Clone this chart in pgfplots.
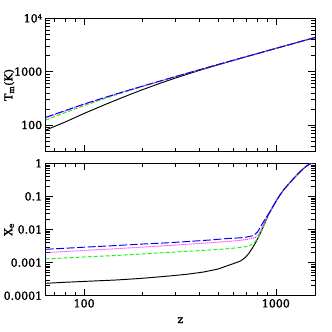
\documentclass[border=0pt]{standalone}
\usepackage{fontspec}
\setmainfont{DejaVu Serif}[FakeBold=1.8]
\usepackage{pgfplots}
\pgfplotsset{compat=1.18}

\definecolor{lgreen}{rgb}{0.1,0.95,0.1}
\definecolor{mag}{rgb}{1,0,1}

\pgfplotsset{every axis plot/.append style={line width=0.95pt}}

\begin{document}
\begin{tikzpicture}
\path[use as bounding box] (0pt,0pt) rectangle (332pt,332pt);

% upper panel: matter temperature
\begin{axis}[at={(45.7pt,180.3pt)}, anchor=south west,
    xmode=log, ymode=log,
    scale only axis, width=269.3pt, height=133.4pt,
    xmin=63, xmax=1600,
    xtick={100,1000},
    minor xtick={70,80,90,200,300,400,500,600,700,800,900},
    tick align=inside,
    axis line style={line width=1pt},
    tick style={black, line width=0.6pt},
    major tick length=7pt, minor tick length=4pt,
    ticklabel style={font=\fontsize{11}{13}\selectfont},
    label style={font=\fontsize{11}{13}\selectfont},
    ylabel style={at={(axis description cs:-0.136,0.5)}, anchor=center},
    ymin=31.623, ymax=10000,
    ytick={100,1000,10000},
    yticklabels={100,1000,{10\raisebox{0.55ex}{\fontsize{7}{8}\selectfont 4}}},
    minor ytick={40,50,60,70,80,90,200,300,400,500,600,700,800,900,2000,3000,4000,5000,6000,7000,8000,9000},
    xticklabels={},
    ylabel={T\textsubscript{m}(K)}]
  \addplot[black] coordinates {(63,80.2)(80,114.8)(100,165)(130,246)(160,333)(200,455)(250,609)(300,763)(400,1060)(500,1345)(700,1904)(1000,2728)(1300,3545)(1600,4363)};
  \addplot[lgreen, dash pattern=on 4pt off 2pt] coordinates {(63,123.8)(80,172)(100,231)(130,319.5)(160,408)(200,523)(250,665)(300,808)(400,1085)(500,1365)(700,1910)(1000,2728)(1300,3545)(1600,4363)};
  \addplot[mag, dash pattern=on 1pt off 1pt] coordinates {(63,136)(80,184)(100,243.6)(130,330)(160,417)(200,528.5)(250,669)(300,810)(400,1087)(500,1365)(700,1910)(1000,2728)(1300,3545)(1600,4363)};
  \addplot[blue, dash pattern=on 8pt off 2.5pt] coordinates {(63,139.5)(80,187.6)(100,247.7)(130,333.8)(160,419)(200,531)(250,670)(300,812)(400,1087)(500,1365)(700,1910)(1000,2728)(1300,3545)(1600,4363)};
\end{axis}

% lower panel: ionization fraction
\begin{axis}[at={(45.7pt,36.3pt)}, anchor=south west,
    xmode=log, ymode=log,
    scale only axis, width=269.3pt, height=132.4pt,
    xmin=63, xmax=1600,
    xtick={100,1000},
    minor xtick={70,80,90,200,300,400,500,600,700,800,900},
    tick align=inside,
    axis line style={line width=1pt},
    tick style={black, line width=0.6pt},
    major tick length=7pt, minor tick length=4pt,
    ticklabel style={font=\fontsize{11}{13}\selectfont},
    label style={font=\fontsize{11}{13}\selectfont},
    ylabel style={at={(axis description cs:-0.136,0.5)}, anchor=center},
    ymin=0.0001, ymax=1,
    ytick={0.0001,0.001,0.01,0.1,1},
    yticklabels={0.0001,0.001,0.01,0.1,1},
    minor ytick={2e-4,3e-4,4e-4,5e-4,6e-4,7e-4,8e-4,9e-4,2e-3,3e-3,4e-3,5e-3,6e-3,7e-3,8e-3,9e-3,0.02,0.03,0.04,0.05,0.06,0.07,0.08,0.09,0.2,0.3,0.4,0.5,0.6,0.7,0.8,0.9},
    xticklabels={100,1000},
    xlabel={z},
    xlabel style={at={(axis description cs:0.5,-0.185)}, anchor=center},
    ylabel={X\textsubscript{e}}]
  \addplot[black] coordinates {(63,2.37e-4)(80,2.55e-4)(100,2.7e-4)(150,3.0e-4)(200,3.35e-4)(280,3.95e-4)(350,4.5e-4)(420,5.2e-4)(500,6.4e-4)(550,7.8e-4)(600,9.3e-4)(650,1.1e-3)(675,1.27e-3)(700,1.52e-3)(725,1.95e-3)(750,2.6e-3)(780,3.8e-3)(810,5.8e-3)(835,8.3e-3)(860,0.0122)(885,0.018)(910,0.026)(950,0.042)(1000,0.07)(1050,0.11)(1100,0.16)(1150,0.215)(1200,0.285)(1250,0.37)(1300,0.47)(1350,0.585)(1400,0.71)(1450,0.84)(1500,0.95)(1550,1.03)(1600,1.07)};
  \addplot[lgreen, dash pattern=on 4pt off 2pt] coordinates {(63,1.29e-3)(100,1.48e-3)(150,1.65e-3)(200,1.82e-3)(280,2.05e-3)(350,2.2e-3)(450,2.4e-3)(550,2.6e-3)(650,2.85e-3)(700,3.05e-3)(740,3.4e-3)(780,4.3e-3)(810,5.8e-3)(840,8.6e-3)(870,0.0145)(900,0.0235)(920,0.030)(950,0.042)(1000,0.07)(1050,0.11)(1100,0.16)(1150,0.215)(1200,0.285)(1250,0.37)(1300,0.47)(1350,0.585)(1400,0.71)(1450,0.84)(1500,0.95)(1550,1.03)(1600,1.07)};
  \addplot[mag, dash pattern=on 1pt off 1pt] coordinates {(63,2.0e-3)(100,2.33e-3)(150,2.65e-3)(200,2.93e-3)(280,3.3e-3)(350,3.6e-3)(450,3.95e-3)(550,4.3e-3)(650,4.7e-3)(720,5.1e-3)(780,5.7e-3)(805,6.7e-3)(825,8.3e-3)(850,0.0118)(870,0.0165)(890,0.0215)(910,0.027)(950,0.042)(1000,0.07)(1050,0.11)(1100,0.16)(1150,0.215)(1200,0.285)(1250,0.37)(1300,0.47)(1350,0.585)(1400,0.71)(1450,0.84)(1500,0.95)(1550,1.03)(1600,1.07)};
  \addplot[blue, dash pattern=on 8pt off 2.5pt] coordinates {(63,2.52e-3)(100,2.92e-3)(150,3.3e-3)(200,3.63e-3)(280,4.0e-3)(350,4.35e-3)(450,4.8e-3)(550,5.3e-3)(650,5.6e-3)(700,5.9e-3)(750,6.4e-3)(780,7.2e-3)(805,8.7e-3)(825,0.011)(860,0.017)(893,0.024)(920,0.031)(950,0.042)(1000,0.07)(1050,0.11)(1100,0.16)(1150,0.215)(1200,0.285)(1250,0.37)(1300,0.47)(1350,0.585)(1400,0.71)(1450,0.84)(1500,0.95)(1550,1.03)(1600,1.07)};
\end{axis}
\end{tikzpicture}
\end{document}
